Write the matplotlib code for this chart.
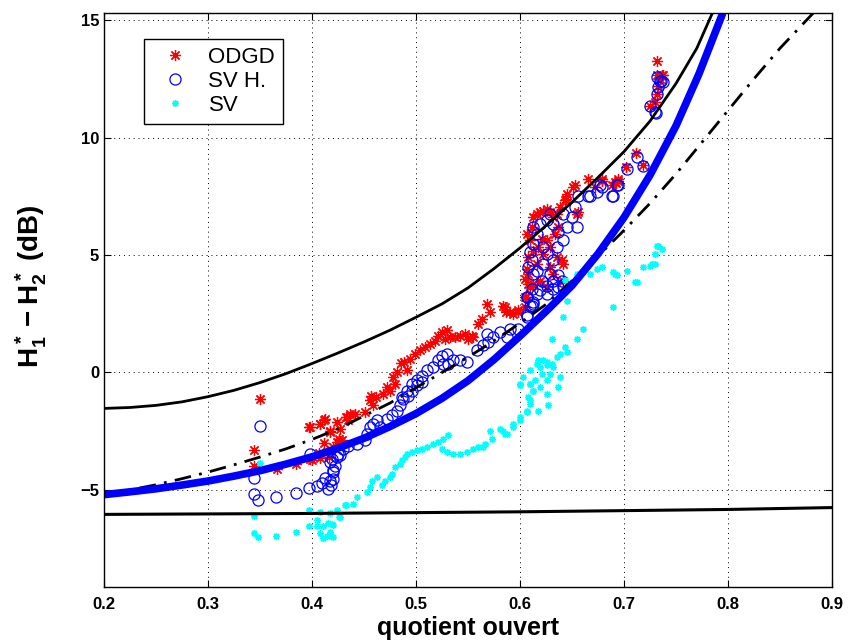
import numpy as np
import matplotlib
matplotlib.use("Agg")
import matplotlib.pyplot as plt

plt.rcParams['font.family'] = ['Liberation Sans', 'DejaVu Sans']
plt.rcParams['mathtext.fontset'] = 'custom'
plt.rcParams['mathtext.rm'] = 'Liberation Sans'
plt.rcParams['mathtext.bf'] = 'Liberation Sans:bold'

# model curves
upper_x = [0.2, 0.225, 0.25, 0.275, 0.3, 0.325, 0.35, 0.375, 0.4, 0.425, 0.45,
           0.475, 0.5, 0.525, 0.55, 0.575, 0.6, 0.625, 0.65, 0.675, 0.7, 0.725,
           0.75, 0.77, 0.785]
upper_y = [-1.53, -1.49, -1.4, -1.25, -1.03, -0.76, -0.43, -0.05, 0.38, 0.83, 1.3,
           1.8, 2.35, 2.92, 3.6, 4.42, 5.3, 6.25, 7.25, 8.3, 9.4, 10.7,
           12.3, 13.8, 15.3]

blue_x = [0.2, 0.225, 0.25, 0.275, 0.3, 0.325, 0.35, 0.375, 0.4, 0.425, 0.45,
          0.475, 0.5, 0.525, 0.55, 0.575, 0.6, 0.625, 0.65, 0.675, 0.7, 0.725,
          0.75, 0.772, 0.795]
blue_y = [-5.2, -5.08, -4.95, -4.79, -4.62, -4.41, -4.18, -3.9, -3.59, -3.22, -2.8,
          -2.3, -1.75, -1.1, -0.35, 0.55, 1.55, 2.6, 3.7, 5.05, 6.6, 8.4,
          10.5, 12.7, 15.3]

dd_x = [0.2, 0.225, 0.25, 0.275, 0.3, 0.325, 0.35, 0.375, 0.4, 0.425, 0.45,
        0.475, 0.5, 0.525, 0.55, 0.575, 0.6, 0.625, 0.65, 0.675, 0.7, 0.725,
        0.75, 0.775, 0.8, 0.825, 0.85, 0.882]
dd_y = [-5.2, -5.0, -4.78, -4.52, -4.24, -3.93, -3.6, -3.25, -2.85, -2.4, -1.85,
        -1.3, -0.65, 0.0, 0.65, 1.35, 2.1, 2.9, 3.9, 4.95, 6.05, 7.2,
        8.45, 9.8, 11.15, 12.5, 13.8, 15.3]

lower_x = [0.2, 0.4, 0.6, 0.8, 0.9]
lower_y = [-6.04, -6.0, -5.93, -5.83, -5.75]

# ODGD
odgd_x = [0.350, 0.344, 0.344, 0.366, 0.385, 0.397, 0.400, 0.408, 0.408, 0.4115,
          0.414, 0.417, 0.4205, 0.424, 0.427, 0.433, 0.417, 0.427, 0.4285, 0.424,
          0.435, 0.441, 0.451, 0.456, 0.459, 0.457, 0.462, 0.4686, 0.475, 0.480,
          0.472, 0.478, 0.4814, 0.4855, 0.488, 0.491, 0.494, 0.499, 0.504, 0.509,
          0.513, 0.518, 0.5215, 0.525, 0.5295, 0.528, 0.533, 0.5375, 0.542, 0.547,
          0.550, 0.5535, 0.555, 0.560, 0.563, 0.5686, 0.571, 0.584, 0.587, 0.5935,
          0.598, 0.606, 0.608, 0.398, 0.4077, 0.4125, 0.4334, 0.4365, 0.398, 0.407,
          0.4165, 0.412, 0.4255,
          0.5856, 0.5904, 0.5984, 0.6048, 0.6048, 0.6064, 0.608, 0.6064, 0.6112,
          0.6128, 0.616, 0.6193, 0.6225, 0.6257, 0.6289, 0.6321, 0.6353, 0.6385,
          0.6449, 0.6513, 0.6545, 0.6433, 0.6401, 0.6417, 0.6289, 0.6225, 0.616,
          0.6193, 0.6128, 0.6096, 0.6289, 0.6321, 0.6257, 0.6369, 0.6337, 0.6209,
          0.6176, 0.6128, 0.6096, 0.608, 0.6257, 0.6353, 0.6417, 0.6048,
          0.653, 0.6657, 0.6785, 0.6923, 0.6946, 0.6556, 0.644, 0.702, 0.7115,
          0.7186, 0.6786, 0.6913, 0.6945, 0.688, 0.672, 0.7314, 0.7362, 0.733,
          0.7314, 0.725, 0.7298, 0.7346, 0.7316, 0.7375]
odgd_y = [-1.15, -3.29, -3.96, -4.1, -3.89, -2.30, -3.74, -2.18, -3.63, -2.01,
          -3.39, -2.54, -3.18, -2.11, -2.92, -1.90, -2.47, -2.40, -2.89, -2.96,
          -2.04, -1.76, -1.69, -1.19, -1.40, -0.98, -1.05, -0.91, -0.77, -0.48,
          -0.62, -0.2, 0.01, 0.4, 0.44, 0.09, 0.58, 0.79, 0.94, 1.08,
          1.22, 1.36, 1.57, 1.72, 1.79, 1.43, 1.50, 1.50, 1.57, 1.65,
          1.43, 1.57, 1.5, 2.07, 2.28, 2.92, 2.57, 2.81, 2.57, 2.50,
          2.57, 3.20, 3.77, -2.33, -2.18, -1.97, -1.9, -1.76, -3.67, -3.42,
          -3.59, -3.02, -2.85,
          2.78, 2.57, 2.64, 3.21, 3.99, 4.41, 4.91, 5.9, 6.18,
          6.61, 6.75, 6.82, 6.89, 6.96, 6.82, 6.61, 6.75, 7.04,
          7.6, 7.89, 6.75, 7.32, 4.77, 4.62, 5.33, 5.05, 4.62,
          3.91, 3.77, 3.63, 4.48, 4.2, 5.62, 6.18, 5.9, 5.69,
          5.33, 5.19, 5.62, 4.2, 3.63, 4.91, 3.91, 2.78,
          7.96, 8.24, 8.24, 8.07, 8.24, 6.82, 7.39, 8.74, 9.33,
          8.81, 8.17, 8.1, 8.17, 7.96, 7.89, 12.64, 12.68, 12.21,
          11.86, 11.36, 11.5, 12.5, 13.27, 12.67]

# SV H.
svh_x = [0.35, 0.344, 0.344, 0.348, 0.365, 0.385, 0.397, 0.4045, 0.41, 0.415,
         0.4205, 0.4125, 0.418, 0.4205, 0.417, 0.424, 0.427, 0.398,
         0.419, 0.422, 0.4205, 0.4173, 0.4253, 0.4301, 0.435, 0.443, 0.451, 0.4526,
         0.4558, 0.459, 0.4622, 0.4654, 0.4718, 0.4766, 0.4814, 0.4846, 0.4878,
         0.4926, 0.4958, 0.5006, 0.5054,
         0.4862, 0.491, 0.4958, 0.5006, 0.5054, 0.5103, 0.5167, 0.5215, 0.5247,
         0.5263, 0.5295, 0.5311, 0.5359, 0.5423, 0.5487, 0.5583, 0.5647, 0.5696,
         0.568, 0.5744, 0.5808, 0.5872, 0.5904, 0.5984, 0.6064, 0.6112, 0.6128,
         0.6064, 0.616, 0.6256, 0.632,
         0.6064, 0.6096, 0.6064, 0.6112, 0.6128, 0.608, 0.6112, 0.6096, 0.6128,
         0.616, 0.6128, 0.6193, 0.6257, 0.6321, 0.6369, 0.6417, 0.6449, 0.6545,
         0.6497, 0.6529, 0.6561, 0.6657, 0.6737, 0.6769, 0.6882, 0.6930, 0.616,
         0.6209, 0.6225, 0.6289, 0.6321, 0.6369, 0.6401, 0.6257, 0.6321, 0.6193,
         0.6257, 0.6369, 0.6417, 0.6128, 0.6225, 0.6353, 0.6289, 0.6417,
         0.6673, 0.6785, 0.6897, 0.6945, 0.7026, 0.7122, 0.7186, 0.7298, 0.7314,
         0.733, 0.7346, 0.7314, 0.7372, 0.725, 0.7305, 0.736]
svh_y = [-2.28, -4.48, -5.19, -5.42, -5.31, -5.13, -4.91, -4.85, -4.7, -4.95,
         -4.55, -4.5, -4.8, -4.17, -3.82, -3.6, -3.5, -3.49,
         -3.67, -3.96, -4.24, -4.6, -3.46, -3.25, -3.11, -3.04, -2.89, -2.61,
         -2.33, -2.18, -2.04, -2.33, -1.97, -1.83, -1.62, -1.4, -1.12,
         -0.98, -0.77, -0.55, -0.41,
         -1.05, -0.77, -0.48, -0.34, -0.13, 0.09, 0.23, 0.51, 0.72,
         0.37, 0.79, 0.37, 0.51, 0.51, 0.44, 0.94, 1.15, 1.29,
         1.65, 1.5, 1.72, 1.5, 1.86, 1.86, 2.35, 2.85, 2.99,
         3.21, 3.35, 3.7, 3.56,
         3.21, 2.85, 2.43, 3.56, 4.2, 4.48, 4.77, 5.12, 5.48,
         5.9, 6.18, 6.33, 6.47, 6.33, 5.97, 5.62, 6.18, 6.18,
         6.61, 7.04, 7.53, 7.53, 7.67, 7.96, 7.53, 7.96, 4.34,
         3.91, 4.62, 4.2, 3.91, 4.13, 3.91, 5.05, 4.77, 3.49,
         3.35, 3.63, 3.63, 2.92, 5.33, 5.33, 6.75, 6.75,
         7.53, 7.89, 7.53, 7.96, 8.67, 9.19, 8.78, 11.08, 11.86,
         12.14, 12.42, 12.57, 12.35, 11.36, 11.05, 12.4]

# SV
sv_x = [0.35, 0.344, 0.344, 0.348, 0.365, 0.385, 0.397, 0.397, 0.4077, 0.417,
        0.426, 0.433, 0.4045, 0.411, 0.4155, 0.417, 0.411, 0.4185, 0.4077, 0.4141,
        0.4205, 0.4045,
        0.4189, 0.4205, 0.4269, 0.4237, 0.4317, 0.4397, 0.4429, 0.4526, 0.4558,
        0.4574, 0.4622, 0.467, 0.4702, 0.475, 0.4766, 0.4798, 0.4846, 0.4862,
        0.4894, 0.491, 0.4958, 0.5006, 0.5054, 0.5103, 0.5167, 0.5215, 0.5263,
        0.5311, 0.5247, 0.5295, 0.5359, 0.5423, 0.5487, 0.5551, 0.5599,
        0.5648, 0.5712, 0.5808, 0.5872, 0.5936, 0.6, 0.6064, 0.6096, 0.6129,
        0.6096, 0.6, 0.6193, 0.6257, 0.6177,
        0.5663, 0.5727, 0.5839, 0.5855, 0.5935, 0.5999, 0.6064, 0.6096, 0.608,
        0.5999, 0.6032, 0.6096, 0.616, 0.6224, 0.6256, 0.6304, 0.6352, 0.6384,
        0.6432, 0.6448, 0.6384, 0.6368, 0.6272, 0.6176, 0.6128, 0.6192, 0.6256,
        0.6288, 0.632, 0.6144, 0.6208, 0.6096, 0.6256, 0.6304, 0.6416, 0.6544,
        0.6608, 0.6448, 0.6432, 0.6544, 0.6673, 0.6737, 0.6785, 0.6897, 0.693,
        0.6897, 0.7025, 0.7106, 0.7186, 0.725, 0.7298, 0.7298, 0.733, 0.7362,
        0.6913, 0.7122, 0.7266, 0.7314]
sv_y = [-3.86, -6.09, -6.84, -7.01, -6.94, -6.8, -5.84, -6.55, -5.94, -5.98,
        -6.15, -5.65, -6.55, -6.55, -6.41, -6.77, -7.05, -6.98, -6.84, -6.98,
        -6.48, -6.27,
        -6.44, -7.01, -6.16, -5.87, -5.66, -5.59, -5.3, -5.09, -4.88,
        -4.6, -4.45, -4.81, -4.6, -4.45, -4.31, -4.03, -3.89, -3.74,
        -3.6, -3.46, -3.39, -3.32, -3.25, -3.18, -3.04, -2.96, -2.82,
        -2.68, -3.25, -3.39, -3.46, -3.46, -3.39, -3.25, -3.18,
        -3.18, -2.47, -2.4, -2.61, -2.18, -1.9, -1.62, -1.19, -0.77,
        -0.48, -0.48, 0.23, 0.44, 0.51,
        -3.03, -2.82, -2.47, -2.61, -2.33, -2.04, -1.69, -1.33, -1.05,
        -0.55, -0.2, 0.09, 0.37, 0.51, 0.30, 0.37, 0.65, 0.79,
        1.08, 0.87, -0.2, -0.62, -1.4, -1.62, -0.77, -0.62, -0.34,
        -0.06, 0.23, -0.34, -0.06, -0.48, -0.91, 1.43, 2.36, 1.43,
        1.86, 3.06, 3.92, 4.2, 4.2, 4.41, 4.48, 4.27, 4.13,
        2.78, 4.34, 3.84, 4.48, 4.55, 4.62, 5.05, 5.4, 5.26,
        4.2, 3.84, 4.62, 5.4]

asterisk = (8, 2, 0)

fig = plt.figure(figsize=(8.49, 6.43), dpi=100)
ax = fig.add_axes([0.1225, 0.0871, 0.8575, 0.8927])

ax.plot(odgd_x, odgd_y, linestyle='none', marker=asterisk, color='red',
        markersize=8, markeredgewidth=0.9, label='ODGD')
ax.plot(svh_x, svh_y, linestyle='none', marker='o', markerfacecolor='none',
        markeredgecolor='blue', markersize=8, markeredgewidth=0.9, label='SV H.')
ax.plot(sv_x, sv_y, linestyle='none', marker=asterisk, color='cyan',
        markersize=5, markeredgewidth=1.0, label='SV')

ax.plot(upper_x, upper_y, '-', color='k', lw=2)
ax.plot(lower_x, lower_y, '-', color='k', lw=2.2)
ax.plot(dd_x, dd_y, color='k', lw=2, dashes=(6, 3, 1, 3))
ax.plot(blue_x, blue_y, '-', color='blue', lw=5.5, solid_capstyle='butt')

ax.set_xlim(0.2, 0.9)
ax.set_ylim(-9.13, 15.3)
ax.set_xticks([0.2, 0.3, 0.4, 0.5, 0.6, 0.7, 0.8, 0.9])
ax.set_yticks([-5, 0, 5, 10, 15])
ax.grid(True, color='k', linestyle=(0, (1, 4)), linewidth=0.7)
ax.tick_params(direction='in', top=True, right=True, length=5, labelsize=12)
ax.tick_params(axis='x', pad=7)
for lab in ax.get_xticklabels() + ax.get_yticklabels():
    lab.set_fontweight('bold')
for sp in ax.spines.values():
    sp.set_linewidth(1.0)

ax.set_xlabel('quotient ouvert', fontsize=18, fontweight='bold', labelpad=3)
ax.set_ylabel(r'$\mathbf{H_1^* - H_2^*}$ $\mathbf{(dB)}$', fontsize=20)
ax.yaxis.set_label_coords(-0.075, 0.523)

leg = ax.legend(loc='upper left', bbox_to_anchor=(0.055, 0.955), borderaxespad=0,
                fontsize=16, fancybox=False, framealpha=1, edgecolor='k',
                handlelength=2.1, handletextpad=0.45, borderpad=0.35,
                labelspacing=0.15)
leg.get_frame().set_linewidth(1.0)

fig.savefig('out.png', dpi=100)
